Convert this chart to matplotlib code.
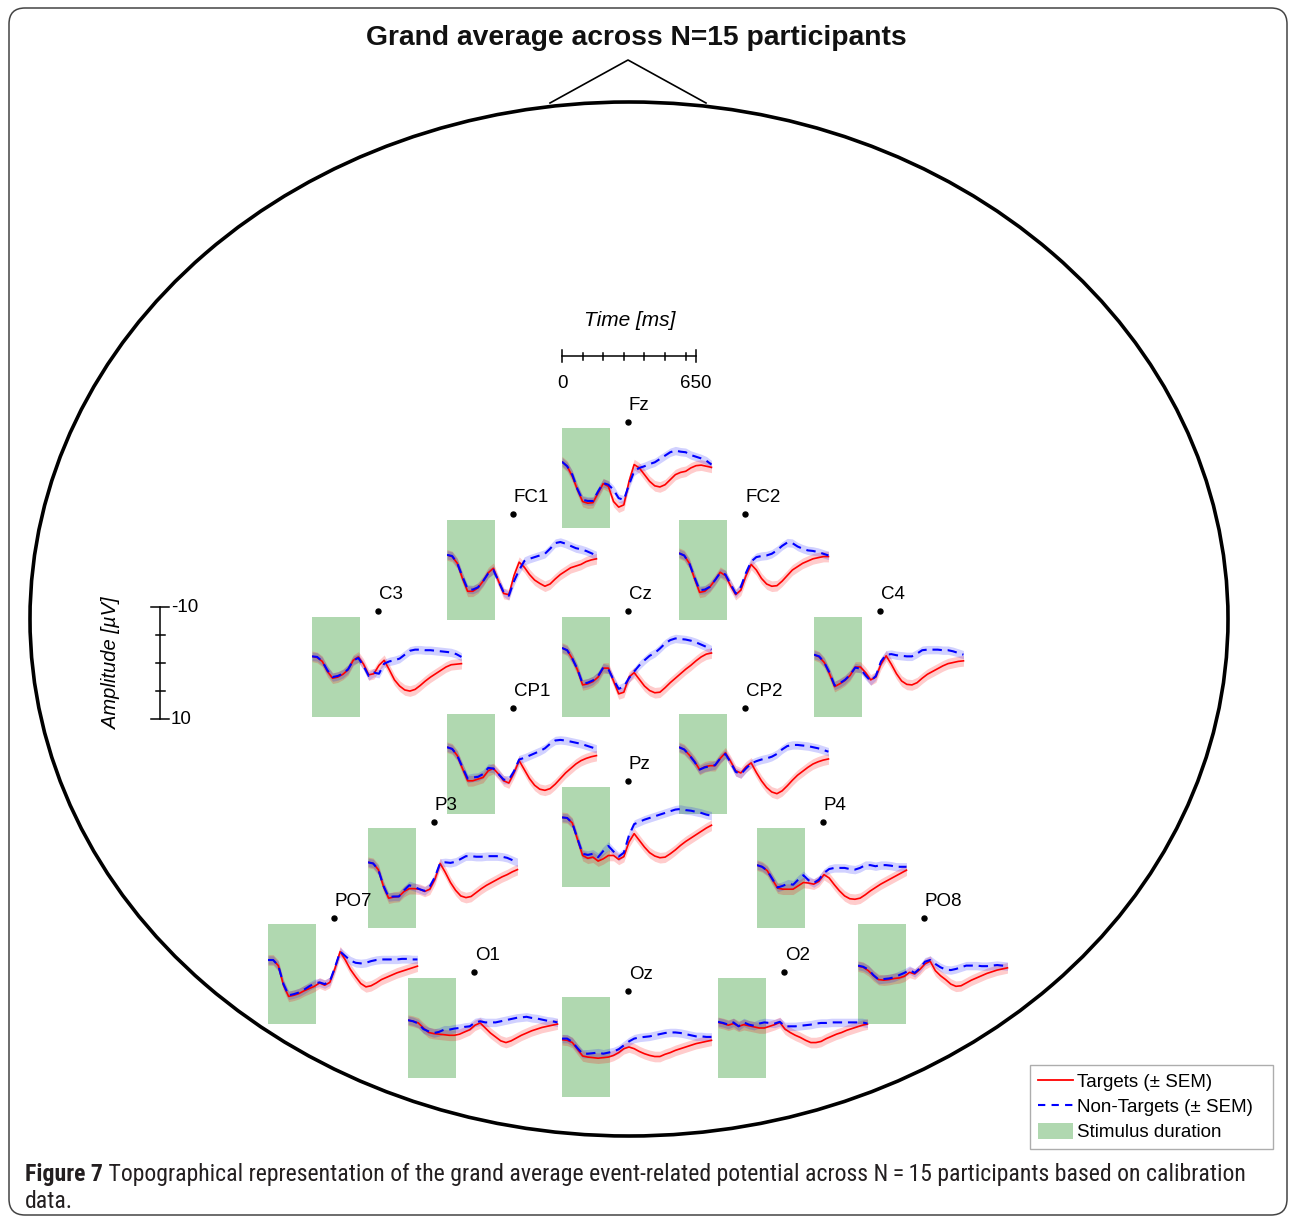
import matplotlib
matplotlib.use('Agg')
import matplotlib.pyplot as plt
from matplotlib.patches import Ellipse, FancyBboxPatch, Rectangle, Patch
from matplotlib.lines import Line2D
from matplotlib import font_manager as fm
import numpy as np

plt.rcParams['font.family'] = ['Liberation Sans', 'DejaVu Sans']

# ---------------- data ----------------
T_MS = [0, 25, 50, 75, 100, 125, 150, 175, 200, 225, 250, 275, 300, 325, 350,
        375, 400, 425, 450, 475, 500, 525, 550, 575, 600, 625, 650, 675, 700, 725]
STIM_MS = 235          # stimulus duration shading
SEM_TARGET = 0.95      # approx. SEM (uV)
SEM_NONTARGET = 0.75

ELECTRODES = ['Fz', 'FC1', 'FC2', 'C3', 'Cz', 'C4', 'CP1', 'CP2', 'Pz',
              'P3', 'P4', 'PO7', 'PO8', 'O1', 'O2', 'Oz']

FZ_T = [-2.9,-2.1,-0.3,2.1,4.2,4.5,4.4,2.7,1.0,1.5,4.2,5.2,4.8,0.6,-2.4,-1.8,-0.6,0.6,1.4,1.6,1.2,0.3,-0.6,-1.0,-1.2,-1.8,-2.2,-2.3,-2.1,-1.9]
FZ_NT = [-2.9,-2.1,-0.6,2.0,3.9,4.1,4.1,2.4,0.9,1.2,2.1,3.6,3.9,1.2,-1.2,-1.8,-2.1,-2.5,-2.8,-3.4,-4.0,-4.6,-4.9,-4.7,-4.6,-4.1,-3.8,-3.5,-3.1,-2.4]
FC1_T = [-2.7,-2.4,-1.2,1.5,3.8,3.8,3.2,2.0,0.5,-0.3,2.0,4.2,4.4,1.0,-1.4,-0.5,0.8,1.8,2.4,2.9,2.5,1.6,0.8,0.2,-0.4,-0.7,-1.0,-1.5,-1.8,-2.0]
FC1_NT = [-2.7,-2.5,-1.2,1.2,3.4,3.5,3.1,2.0,0.6,0.0,2.0,4.0,4.6,2.0,0.0,-1.6,-2.0,-2.3,-2.6,-2.9,-3.8,-4.8,-5.0,-4.7,-4.3,-3.9,-3.7,-3.4,-3.0,-2.6]
FC2_T = [-3.0,-2.6,-1.2,1.5,4.0,3.8,3.0,1.8,0.4,1.0,2.8,4.4,3.6,1.0,-1.0,0.0,1.5,2.5,2.9,2.8,2.0,1.0,0.0,-0.6,-1.2,-1.6,-2.0,-2.2,-2.4,-2.4]
FC2_NT = [-3.0,-2.6,-1.2,1.3,3.6,3.5,3.0,1.8,0.5,0.8,2.5,4.2,3.0,0.5,-1.5,-2.3,-2.5,-2.6,-2.9,-3.5,-4.3,-4.9,-4.8,-4.2,-3.8,-3.5,-3.4,-3.2,-2.9,-2.6]
C3_T = [-1.9,-1.7,-1.0,0.8,2.0,1.8,1.3,0.5,-1.2,-1.8,-0.5,1.4,1.2,-0.3,-1.2,0.5,2.3,3.4,4.1,4.3,4.0,3.3,2.5,1.8,1.2,0.6,0.0,-0.4,-0.5,-0.6]
C3_NT = [-1.9,-1.8,-1.0,0.6,1.8,1.6,1.2,0.4,-1.2,-1.6,-0.2,1.6,1.0,1.2,-0.6,-1.0,-1.2,-1.5,-2.2,-2.9,-3.1,-3.1,-3.0,-3.0,-2.9,-2.8,-2.7,-2.6,-2.3,-1.8]
CZ_T = [-3.4,-3.0,-1.5,0.5,3.2,3.0,2.6,1.8,0.2,0.2,2.5,4.8,4.5,1.8,1.0,2.2,3.4,4.2,4.6,4.5,3.7,2.8,2.0,1.2,0.4,-0.3,-1.1,-1.8,-2.3,-2.5]
CZ_NT = [-3.4,-3.0,-1.5,0.4,3.0,2.8,2.4,1.6,0.1,0.4,2.3,3.9,3.5,2.0,0.8,-0.3,-1.2,-2.0,-2.5,-3.3,-4.2,-4.8,-5.1,-5.0,-4.9,-4.7,-4.4,-4.0,-3.6,-3.1]
C4_T = [-2.2,-1.8,-0.8,1.2,3.5,3.0,2.4,1.5,0.0,0.0,1.0,2.3,1.8,-0.5,-2.0,-0.5,1.2,2.5,3.1,3.2,2.8,2.0,1.3,0.8,0.3,-0.2,-0.6,-0.8,-1.0,-1.1]
C4_NT = [-2.2,-1.9,-0.8,1.0,3.3,2.9,2.3,1.4,0.1,0.3,1.5,2.5,1.6,-1.0,-2.2,-2.3,-2.1,-2.0,-1.9,-1.9,-2.4,-3.0,-3.1,-3.1,-3.1,-3.0,-3.0,-2.8,-2.5,-2.2]
CP1_T = [-3.0,-2.7,-1.5,0.8,3.0,3.0,2.7,2.4,1.2,0.8,1.8,3.0,3.4,1.6,-0.6,1.0,2.6,3.8,4.5,4.7,4.4,3.6,2.6,1.6,0.8,0.0,-0.6,-1.0,-1.3,-1.5]
CP1_NT = [-3.0,-2.7,-1.5,0.6,2.6,2.4,2.3,1.8,0.7,0.8,1.8,2.8,2.8,1.3,-0.8,-1.1,-1.5,-1.9,-2.3,-2.8,-3.6,-4.2,-4.3,-4.2,-4.0,-3.8,-3.6,-3.3,-3.0,-2.7]
CP2_T = [-3.0,-2.6,-1.6,-0.5,1.0,0.5,0.3,0.3,-1.0,-2.0,-0.5,1.2,1.6,0.5,-0.2,1.5,3.0,4.2,5.0,5.3,4.8,3.9,2.9,2.0,1.3,0.6,0.0,-0.4,-0.7,-0.9]
CP2_NT = [-3.0,-2.6,-1.6,-0.4,1.0,0.6,0.4,0.2,-1.0,-1.8,-0.3,1.4,1.8,0.8,-0.1,-0.5,-0.8,-1.0,-1.3,-1.8,-2.6,-3.2,-3.4,-3.4,-3.3,-3.2,-3.0,-2.8,-2.5,-2.2]
PZ_T = [-3.5,-3.4,-2.5,0.4,3.3,3.8,3.6,4.3,3.9,3.3,3.3,4.0,3.5,0.9,-0.6,0.6,1.8,2.8,3.4,3.7,3.6,3.0,2.3,1.5,0.8,0.2,-0.4,-1.0,-1.6,-2.1]
PZ_NT = [-3.5,-3.4,-2.5,0.3,3.0,3.2,3.0,3.6,2.5,1.6,2.6,3.5,2.8,-0.3,-2.3,-2.7,-3.1,-3.4,-3.7,-4.0,-4.3,-4.6,-4.9,-5.0,-4.8,-4.7,-4.5,-4.3,-4.0,-3.8]
P3_T = [-2.8,-2.6,-1.5,1.5,3.6,3.4,3.3,2.4,1.9,1.9,2.0,2.4,2.0,0.2,-2.6,-1.0,0.8,2.2,3.2,3.5,3.3,2.6,1.9,1.3,0.8,0.3,-0.2,-0.6,-1.1,-1.5]
P3_NT = [-2.8,-2.6,-1.5,1.4,3.4,3.3,3.3,2.2,1.3,1.6,2.0,2.3,1.5,-0.2,-2.7,-2.8,-2.7,-2.9,-3.4,-3.9,-3.9,-3.8,-3.8,-3.9,-3.9,-3.9,-3.8,-3.6,-3.2,-2.8]
P4_T = [-2.3,-2.0,-1.3,0.3,1.8,2.0,2.0,2.0,1.4,0.8,0.9,1.1,0.6,-0.6,0.0,1.2,2.3,3.2,3.7,3.8,3.6,3.0,2.3,1.7,1.1,0.6,0.1,-0.4,-0.9,-1.4]
P4_NT = [-2.3,-2.0,-1.3,0.2,1.7,1.4,1.0,1.2,0.3,-0.5,0.4,0.9,0.3,-0.9,-1.6,-1.8,-1.8,-1.8,-1.6,-1.5,-1.8,-2.3,-2.3,-2.1,-2.3,-2.3,-2.2,-2.0,-2.0,-2.0]
PO7_T = [-2.5,-2.5,-1.5,2.0,4.0,3.8,3.5,3.0,2.6,2.2,1.6,2.0,1.5,-1.0,-4.0,-2.5,-0.8,0.5,1.7,2.3,2.1,1.6,1.0,0.6,0.2,-0.2,-0.5,-0.8,-1.1,-1.4]
PO7_NT = [-2.5,-2.5,-1.5,1.8,3.8,3.6,3.3,2.8,2.2,1.7,1.5,1.8,1.3,-1.2,-4.0,-3.2,-2.4,-2.0,-1.9,-2.0,-2.3,-2.5,-2.6,-2.6,-2.6,-2.6,-2.7,-2.7,-2.6,-2.6]
PO8_T = [-1.4,-1.2,-0.6,0.3,1.0,1.1,1.0,0.8,0.7,0.4,-0.3,0.0,-0.8,-1.8,-2.3,-0.6,0.3,1.0,1.8,2.2,2.1,1.6,1.1,0.7,0.3,-0.1,-0.4,-0.7,-0.9,-1.1]
PO8_NT = [-1.5,-1.3,-0.8,0.2,1.0,0.9,0.8,0.6,0.2,-0.2,-0.7,-0.2,-1.0,-2.2,-2.5,-1.8,-1.2,-0.8,-0.7,-0.9,-1.2,-1.5,-1.5,-1.5,-1.4,-1.4,-1.5,-1.6,-1.5,-1.4]
O1_T = [-1.4,-1.2,-0.9,0.0,0.8,1.0,1.1,1.2,1.3,1.3,1.1,0.7,0.3,-0.5,-0.9,0.0,0.9,1.6,2.3,2.6,2.3,1.8,1.3,0.9,0.5,0.2,-0.1,-0.3,-0.5,-0.7]
O1_NT = [-1.4,-1.2,-0.8,0.2,0.6,0.9,0.7,0.3,0.3,0.1,0.0,-0.2,-0.3,-1.0,-1.2,-1.0,-1.0,-1.0,-1.2,-1.4,-1.6,-1.8,-1.9,-2.0,-1.8,-1.7,-1.5,-1.3,-1.2,-1.0]
O2_T = [-1.0,-0.8,-0.5,-0.8,-0.3,-0.6,-0.4,-0.2,0.0,0.0,-0.3,-0.6,-1.0,0.2,0.8,1.3,1.7,2.2,2.6,2.6,2.4,1.9,1.5,1.1,0.8,0.4,0.1,-0.2,-0.5,-0.7]
O2_NT = [-1.1,-0.9,-0.6,-1.0,-0.3,-1.0,-0.6,-0.4,-0.8,-1.0,-0.9,-0.8,-1.1,-0.3,-0.3,-0.3,-0.4,-0.5,-0.6,-0.8,-0.9,-0.9,-1.0,-1.0,-1.0,-1.0,-1.0,-1.0,-1.0,-0.8]
OZ_T = [-1.3,-1.2,-0.8,0.4,1.6,1.8,1.9,2.0,1.9,1.8,1.5,1.0,0.3,0.0,0.3,0.8,1.2,1.5,1.7,1.7,1.3,1.0,0.6,0.3,0.0,-0.3,-0.6,-0.8,-1.0,-1.2]
OZ_NT = [-1.5,-1.5,-0.9,0.2,1.2,1.2,1.1,1.0,1.2,1.0,0.8,0.4,-0.3,-1.0,-1.5,-1.7,-1.8,-1.9,-2.1,-2.3,-2.5,-2.6,-2.6,-2.5,-2.3,-2.1,-1.9,-1.9,-1.8,-1.8]

TARGETS = [FZ_T, FC1_T, FC2_T, C3_T, CZ_T, C4_T, CP1_T, CP2_T, PZ_T,
           P3_T, P4_T, PO7_T, PO8_T, O1_T, O2_T, OZ_T]
NONTARGETS = [FZ_NT, FC1_NT, FC2_NT, C3_NT, CZ_NT, C4_NT, CP1_NT, CP2_NT, PZ_NT,
              P3_NT, P4_NT, PO7_NT, PO8_NT, O1_NT, O2_NT, OZ_NT]

LEGEND_LABELS = ['Targets (± SEM)', 'Non-Targets (± SEM)', 'Stimulus duration']
TITLE = 'Grand average across N=15 participants'
CAPTION_BOLD = 'Figure 7'
CAPTION_1 = ' Topographical representation of the grand average event-related potential across N\u2009=\u200915 participants based on calibration'
CAPTION_2 = 'data.'

# ---------------- layout (pixels) ----------------
W, H = 1290, 1218
# (left edge of axes, vertical centre) of each electrode panel
LAYOUT = [(562, 478), (447, 570), (679, 570), (312, 667), (562, 667), (814, 667),
          (447, 764), (679, 764), (562, 837), (368, 878), (757, 878),
          (268, 974), (858, 974), (408, 1028), (718, 1028), (562, 1047)]
PX_PER_MS = 134 / 650
PX_PER_UV = 112 / 20
X_MAX = 735
DOT_MS = 320

GREEN = '#b0d8b0'
RED = '#ff0000'
BLUE = '#0000ff'
LBL = 13.5

fig = plt.figure(figsize=(W / 100, H / 100), dpi=100)
fig.patch.set_facecolor('white')
bg = fig.add_axes([0, 0, 1, 1])
bg.set_xlim(0, W)
bg.set_ylim(H, 0)
bg.axis('off')

# outer rounded frame
bg.add_patch(FancyBboxPatch((9, 8), W - 9 - 3, H - 8 - 3,
                            boxstyle='round,pad=0,rounding_size=16',
                            facecolor='none', edgecolor='#444444', lw=1.1))

# head outline + nose
bg.add_patch(Ellipse((629, 619), 1198, 1034, facecolor='none',
                     edgecolor='black', lw=2.6))
bg.plot([550, 628, 706], [103, 60, 103], color='black', lw=1.2)

# title
bg.text(636, 38, TITLE, ha='center', va='center', fontsize=20.3,
        fontweight='bold', color='#111111')

# time scale bar
tx0, ty = 562, 356
bg.plot([tx0, tx0 + 650 * PX_PER_MS], [ty, ty], color='black', lw=1.1)
for tm in [0, 650]:
    bg.plot([tx0 + tm * PX_PER_MS] * 2, [ty - 6, ty + 6], color='black', lw=1.1)
for tm in range(100, 650, 100):
    bg.plot([tx0 + tm * PX_PER_MS] * 2, [ty - 3.5, ty + 3.5], color='black', lw=1.1)
bg.text(tx0, 383, '0', ha='center', va='center', fontsize=LBL)
bg.text(tx0 + 650 * PX_PER_MS, 383, '650', ha='center', va='center', fontsize=LBL)
bg.text(630, 320, 'Time [ms]', ha='center', va='center', fontsize=15,
        style='italic')

# amplitude scale bar
ax0, ay = 160, 663
bg.plot([ax0, ax0], [ay - 10 * PX_PER_UV, ay + 10 * PX_PER_UV], color='black', lw=1.1)
for uv in [-10, 10]:
    bg.plot([ax0 - 9, ax0 + 9], [ay + uv * PX_PER_UV] * 2, color='black', lw=1.1)
for uv in [-5, 0, 5]:
    bg.plot([ax0 - 4.5, ax0 + 4.5], [ay + uv * PX_PER_UV] * 2, color='black', lw=1.1)
bg.text(171, ay - 10 * PX_PER_UV, '-10', ha='left', va='center', fontsize=LBL)
bg.text(171, ay + 10 * PX_PER_UV, '10', ha='left', va='center', fontsize=LBL)
bg.text(112, ay, 'Amplitude [\u00b5V]', ha='center', va='center', fontsize=14.5,
        style='italic', rotation=90)

# electrode panels
t = np.array(T_MS)
for name, (L, C), yt, ynt in zip(ELECTRODES, LAYOUT, TARGETS, NONTARGETS):
    ax = fig.add_axes([L / W, 1 - (C + 10 * PX_PER_UV) / H,
                       X_MAX * PX_PER_MS / W, 20 * PX_PER_UV / H])
    ax.set_xlim(0, X_MAX)
    ax.set_ylim(10, -10)
    ax.axis('off')
    ax.patch.set_alpha(0)
    ax.add_patch(Rectangle((0, -9), STIM_MS, 18, facecolor=GREEN,
                           edgecolor='none', zorder=0))
    yt = np.array(yt)
    ynt = np.array(ynt)
    ax.fill_between(t, yt - SEM_TARGET, yt + SEM_TARGET, color=RED, alpha=0.2,
                    lw=0, zorder=1)
    ax.fill_between(t, ynt - SEM_NONTARGET, ynt + SEM_NONTARGET, color=BLUE,
                    alpha=0.18, lw=0, zorder=1)
    ax.plot(t, yt, color=RED, lw=1.2, zorder=2)
    ax.plot(t, ynt, color=BLUE, lw=1.5, dashes=(4.5, 2.8), zorder=3)
    ax.plot([DOT_MS], [-10], 'o', color='black', ms=3.6, clip_on=False, zorder=4)
    ax.annotate(name, (DOT_MS, -10), xytext=(0.5, 8.8), textcoords='offset points',
                ha='left', va='baseline', fontsize=LBL, annotation_clip=False)

# legend
handles = [Line2D([], [], color=RED, lw=1.3),
           Line2D([], [], color=BLUE, lw=1.5, dashes=(3.5, 3.0)),
           Patch(facecolor=GREEN, edgecolor='none')]
leg_x0, leg_x1, leg_y0, leg_y1 = 1030, 1273, 1065, 1145
leg = bg.legend(handles, LEGEND_LABELS, loc='upper left', mode='expand',
                bbox_to_anchor=(leg_x0 / W, 1 - leg_y1 / H,
                                (leg_x1 - leg_x0) / W, (leg_y1 - leg_y0) / H),
                bbox_transform=fig.transFigure,
                fontsize=13.5, frameon=True, fancybox=False, borderaxespad=0,
                borderpad=0.4, handlelength=1.9, handletextpad=0.2,
                labelspacing=0.33, handleheight=1.0)
leg.get_frame().set_edgecolor('#999999')
leg.get_frame().set_linewidth(1.0)

# caption (condensed font if available)
cond_family = None
for f in fm.fontManager.ttflist:
    if str(f.stretch) in ('condensed', 'semi-condensed', 'extra-condensed'):
        cond_family = f.name
        if f.name in ('Liberation Sans Narrow', 'Roboto Condensed', 'Open Sans', 'Noto Sans'):
            break
cap_kw = dict(family=[cond_family, 'DejaVu Sans'] if cond_family else ['Liberation Sans', 'DejaVu Sans'])
if cond_family:
    cap_kw['fontstretch'] = 'condensed'
cap_size = 14.0
cb = bg.text(25, 1174, CAPTION_BOLD, ha='left', va='center', fontsize=cap_size,
             fontweight='bold', color='#231f20', **cap_kw)
c1 = bg.text(100, 1174, CAPTION_1, ha='left', va='center', fontsize=cap_size,
             color='#231f20', **cap_kw)
r = fig.canvas.get_renderer()
for _ in range(3):
    fig.canvas.draw()
    ext = cb.get_window_extent(r)
    c1.set_x(ext.x1)
    fig.canvas.draw()
    end = c1.get_window_extent(r).x1
    cap_size = cap_size * (1246 - 25) / (end - 25)
    cb.set_fontsize(cap_size)
    c1.set_fontsize(cap_size)
fig.canvas.draw()
c1.set_x(cb.get_window_extent(r).x1)
bg.text(25, 1201, CAPTION_2, ha='left', va='center', fontsize=cap_size,
        color='#231f20', **cap_kw)

fig.savefig('out.png', dpi=100, facecolor='white')
